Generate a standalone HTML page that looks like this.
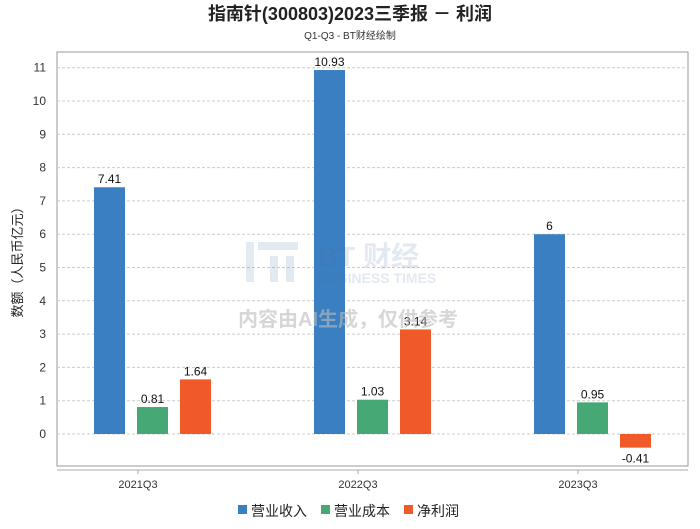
<!DOCTYPE html>
<html><head><meta charset="utf-8"><style>
body{margin:0;background:#fff;font-family:"Liberation Sans","Noto Sans CJK SC",sans-serif;}
svg text{font-family:"Liberation Sans","Noto Sans CJK SC",sans-serif;}
</style></head><body>
<svg id="c" width="700" height="524" xmlns="http://www.w3.org/2000/svg">
<text x="350" y="20" text-anchor="middle" font-size="18" font-weight="bold" fill="#222">指南针(300803)2023三季报 － 利润</text>
<text x="350" y="39" text-anchor="middle" font-size="10" fill="#333">Q1-Q3 - BT财经绘制</text>
<rect x="57" y="52" width="631" height="414" fill="none" stroke="#999"/>
<line x1="57" y1="470" x2="688" y2="470" stroke="#aaa"/>
<text transform="translate(22,259) rotate(-90)" text-anchor="middle" font-size="13" fill="#222">数额（人民币亿元）</text>
<g id="grid"></g><g id="bars"></g>
<g opacity="0.15">
<rect x="246" y="242" width="8" height="40" fill="#4a6fa5"/>
<rect x="258" y="242" width="40" height="8" fill="#4a6fa5"/>
<rect x="270" y="256" width="8" height="26" fill="#4a6fa5"/>
<rect x="286" y="256" width="8" height="26" fill="#4a6fa5"/>
<text x="318" y="266" font-size="28" font-weight="bold" fill="#4a6fa5">BT 财经</text>
<text x="318" y="283" font-size="14" font-weight="bold" fill="#4a6fa5">BUSINESS TIMES</text>
</g>
<text x="348" y="326" text-anchor="middle" font-size="20" font-weight="bold" fill="#bbb" opacity="0.6">内容由AI生成，仅供参考</text>
<g font-size="14" fill="#222">
<rect x="238" y="505" width="9" height="9" fill="#3a7fc1"/><text x="251" y="516">营业收入</text>
<rect x="321" y="505" width="9" height="9" fill="#46a874"/><text x="334" y="516">营业成本</text>
<rect x="404" y="505" width="9" height="9" fill="#f05a28"/><text x="417" y="516">净利润</text>
</g>
</svg>
<script>
const categories=["2021Q3","2022Q3","2023Q3"];
const revenue=[7.41,10.93,6];
const cost=[0.81,1.03,0.95];
const profit=[1.64,3.14,-0.41];
const yTicks=[0,1,2,3,4,5,6,7,8,9,10,11];
const ns="http://www.w3.org/2000/svg";
const y=v=>434-v*33.3;
const cx=i=>138+i*220;
function mk(t,a,p){const e=document.createElementNS(ns,t);for(const k in a)e.setAttribute(k,a[k]);p.appendChild(e);return e;}
const g=document.getElementById('grid'),b=document.getElementById('bars');
yTicks.forEach(t=>{
 const l=mk('line',{x1:57,x2:688,y1:y(t),y2:y(t),stroke:'#ccc','stroke-dasharray':'3,2'},g);
 
 
 const tx=mk('text',{x:46,y:y(t)+4,'text-anchor':'end','font-size':12,fill:'#333'},g);tx.textContent=t;
 
 
});
const series=[[revenue,'#3a7fc1','revenue'],[cost,'#46a874','cost'],[profit,'#f05a28','profit']];
categories.forEach((c,i)=>{
 const tl=mk('text',{x:cx(i),y:488,'text-anchor':'middle','font-size':11,fill:'#333'},g);tl.textContent=c;
 
 
 mk('line',{x1:cx(i),x2:cx(i),y1:470,y2:474,stroke:'#aaa'},g);
 series.forEach((s,j)=>{
  const v=s[0][i],x=cx(i)-44+j*43;
  const top=Math.min(y(v),y(0)),h=Math.abs(y(v)-y(0));
  const r=mk('rect',{x:x,y:top,width:31,height:h,fill:s[1]},b);
  
  
  const lt=mk('text',{x:x+15.5,y:v>=0?y(v)-4:y(v)+15,'text-anchor':'middle','font-size':12,fill:'#111'},b);
  lt.textContent=v;
  
  
 });
});
</script>
</body></html>
